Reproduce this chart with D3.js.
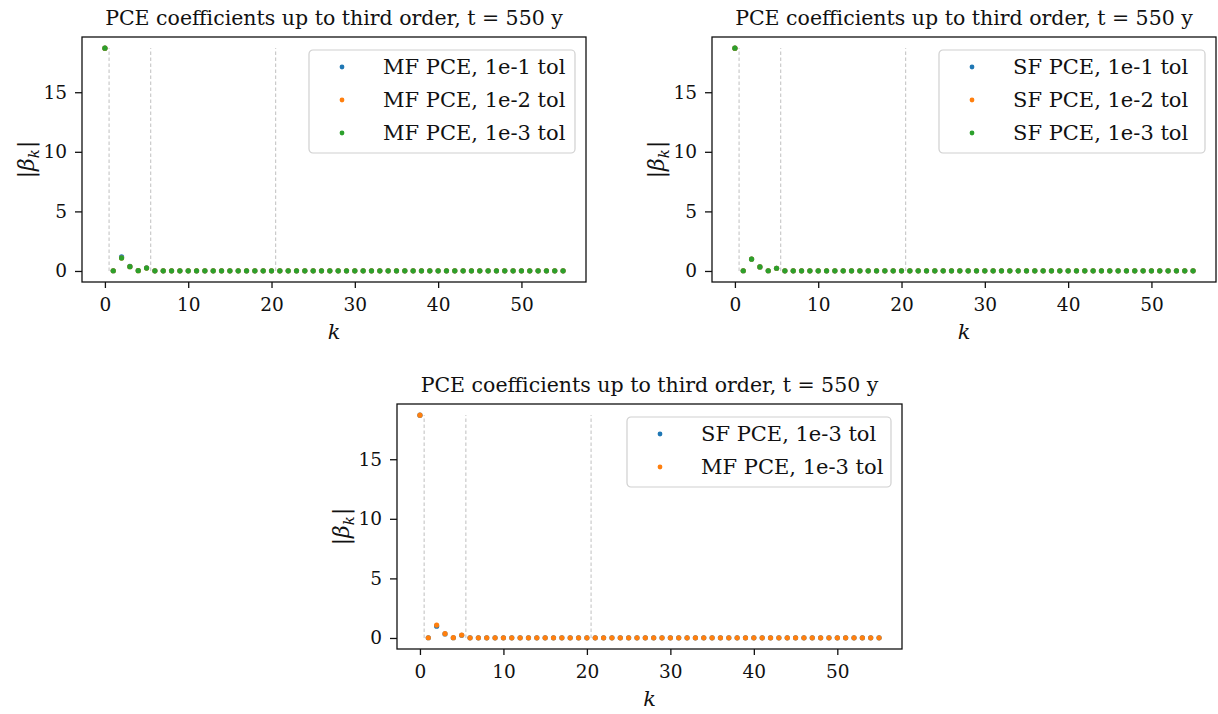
<!DOCTYPE html>
<html>
<head>
<meta charset="utf-8">
<script src="https://cdn.jsdelivr.net/npm/d3@7"></script>
<style>
  body { margin: 0; background: #fff; }
  svg text { font-family: "DejaVu Serif", "Liberation Serif", serif; fill: #111; }
</style>
</head>
<body>
<svg width="1218" height="714"></svg>
<script>
const width = 1218,
      height = 714

const title = "PCE coefficients up to third order, t = 550 y"

// k index 0..55
const kIndex = [0,1,2,3,4,5,6,7,8,9,10,11,12,13,14,15,16,17,18,19,20,21,22,23,24,25,26,27,
  28,29,30,31,32,33,34,35,36,37,38,39,40,41,42,43,44,45,46,47,48,49,50,51,52,53,54,55]

const xTicks = [0, 10, 20, 30, 40, 50]
const yTicks = [0, 5, 10, 15]
const orderBreaks = [0.5, 5.5, 20.5]

const mf1 = [18.70,0.02,1.18,0.38,0.04,0.27,0.01,0.01,0.01,0.01,0.01,0.01,0.01,0.01,0.01,0.01,0.01,0.01,0.01,0.01,
  0.01,0.01,0.01,0.01,0.01,0.01,0.01,0.01,0.01,0.01,0.01,0.01,0.01,0.01,0.01,0.01,0.01,0.01,0.01,0.01,
  0.01,0.01,0.01,0.01,0.01,0.01,0.01,0.01,0.01,0.01,0.01,0.01,0.01,0.01,0.01,0.01]
const mf2 = [18.70,0.02,1.09,0.36,0.03,0.24,0.01,0.01,0.01,0.01,0.01,0.01,0.01,0.01,0.01,0.01,0.01,0.01,0.01,0.01,
  0.01,0.01,0.01,0.01,0.01,0.01,0.01,0.01,0.01,0.01,0.01,0.01,0.01,0.01,0.01,0.01,0.01,0.01,0.01,0.01,
  0.01,0.01,0.01,0.01,0.01,0.01,0.01,0.01,0.01,0.01,0.01,0.01,0.01,0.01,0.01,0.01]
const mf3 = [18.70,0.02,1.08,0.36,0.03,0.24,0.01,0.01,0.01,0.01,0.01,0.01,0.01,0.01,0.01,0.01,0.01,0.01,0.01,0.01,
  0.01,0.01,0.01,0.01,0.01,0.01,0.01,0.01,0.01,0.01,0.01,0.01,0.01,0.01,0.01,0.01,0.01,0.01,0.01,0.01,
  0.01,0.01,0.01,0.01,0.01,0.01,0.01,0.01,0.01,0.01,0.01,0.01,0.01,0.01,0.01,0.01]
const sf1 = [18.70,0.02,1.00,0.34,0.02,0.23,0.01,0.01,0.01,0.01,0.01,0.01,0.01,0.01,0.01,0.01,0.01,0.01,0.01,0.01,
  0.01,0.01,0.01,0.01,0.01,0.01,0.01,0.01,0.01,0.01,0.01,0.01,0.01,0.01,0.01,0.01,0.01,0.01,0.01,0.01,
  0.01,0.01,0.01,0.01,0.01,0.01,0.01,0.01,0.01,0.01,0.01,0.01,0.01,0.01,0.01,0.01]
const sf2 = [18.70,0.02,1.00,0.34,0.02,0.23,0.01,0.01,0.01,0.01,0.01,0.01,0.01,0.01,0.01,0.01,0.01,0.01,0.01,0.01,
  0.01,0.01,0.01,0.01,0.01,0.01,0.01,0.01,0.01,0.01,0.01,0.01,0.01,0.01,0.01,0.01,0.01,0.01,0.01,0.01,
  0.01,0.01,0.01,0.01,0.01,0.01,0.01,0.01,0.01,0.01,0.01,0.01,0.01,0.01,0.01,0.01]
const sf3 = [18.70,0.02,0.99,0.34,0.02,0.23,0.01,0.01,0.01,0.01,0.01,0.01,0.01,0.01,0.01,0.01,0.01,0.01,0.01,0.01,
  0.01,0.01,0.01,0.01,0.01,0.01,0.01,0.01,0.01,0.01,0.01,0.01,0.01,0.01,0.01,0.01,0.01,0.01,0.01,0.01,
  0.01,0.01,0.01,0.01,0.01,0.01,0.01,0.01,0.01,0.01,0.01,0.01,0.01,0.01,0.01,0.01]

const blue = "#1f77b4", orange = "#ff7f0e", green = "#2ca02c"

const panels = [
  {box: [82, 37, 586, 282], series: [
    {name: "MF PCE, 1e-1 tol", color: blue, values: mf1},
    {name: "MF PCE, 1e-2 tol", color: orange, values: mf2},
    {name: "MF PCE, 1e-3 tol", color: green, values: mf3}]},
  {box: [712, 37, 1216, 282], series: [
    {name: "SF PCE, 1e-1 tol", color: blue, values: sf1},
    {name: "SF PCE, 1e-2 tol", color: orange, values: sf2},
    {name: "SF PCE, 1e-3 tol", color: green, values: sf3}]},
  {box: [397, 404, 902, 649], series: [
    {name: "SF PCE, 1e-3 tol", color: blue, values: sf3},
    {name: "MF PCE, 1e-3 tol", color: orange, values: mf3}]}
]

const svg = d3.select("svg")
  .attr("width", width)
  .attr("height", height)

const tickFont = 18.5,
      textFont = 21,
      titleFont = 20.5

panels.forEach(drawPanel)

function drawPanel (p) {
  const [x0, y0, x1, y1] = p.box
  const allMax = d3.max(p.series, s => d3.max(s.values))
  const allMin = d3.min(p.series, s => d3.min(s.values))
  const padY = (allMax - allMin) * 0.05
  const padX = 55 * 0.05

  const x = d3.scaleLinear().domain([-padX, 55 + padX]).range([x0, x1])
  const y = d3.scaleLinear().domain([allMin - padY, allMax + padY]).range([y1, y0])

  const g = svg.append("g")

  // dashed separators between polynomial orders
  g.selectAll("line.sep")
    .data(orderBreaks)
    .enter().append("line")
      .attr("x1", d => x(d)).attr("x2", d => x(d))
      .attr("y1", y(0)).attr("y2", y(allMax))
      .attr("stroke", "#b8b8b8")
      .attr("stroke-width", 0.9)
      .attr("stroke-dasharray", "3.5,2.5")

  p.series.forEach(s => {
    g.selectAll(null)
      .data(s.values)
      .enter().append("circle")
        .attr("cx", (d, i) => x(kIndex[i]))
        .attr("cy", d => y(d))
        .attr("r", 2.6)
        .attr("fill", s.color)
  })

  // axes
  const xAxis = g.append("g")
    .attr("transform", `translate(0,${y1})`)
    .call(d3.axisBottom(x).tickValues(xTicks).tickSize(6).tickPadding(8).tickFormat(d3.format("d")))
  const yAxis = g.append("g")
    .attr("transform", `translate(${x0},0)`)
    .call(d3.axisLeft(y).tickValues(yTicks).tickSize(7).tickPadding(8).tickFormat(d3.format("d")))
  ;[xAxis, yAxis].forEach(a => {
    a.select(".domain").remove()
    a.selectAll("line").attr("stroke", "#111").attr("stroke-width", 1.3)
    a.selectAll("text").attr("font-size", tickFont).attr("font-family", null).style("fill", "#111")
  })
  xAxis.selectAll("text").attr("dy", "0.8em")

  g.append("rect")
    .attr("x", x0).attr("y", y0)
    .attr("width", x1 - x0).attr("height", y1 - y0)
    .attr("fill", "none")
    .attr("stroke", "#111")
    .attr("stroke-width", 1.3)

  g.append("text")
    .attr("x", (x0 + x1) / 2)
    .attr("y", y0 - 12)
    .attr("text-anchor", "middle")
    .attr("font-size", titleFont)
    .text(title)

  g.append("text")
    .attr("x", (x0 + x1) / 2)
    .attr("y", y1 + 57)
    .attr("text-anchor", "middle")
    .attr("font-size", textFont)
    .attr("font-style", "italic")
    .text("k")

  const yl = g.append("text")
    .attr("transform", `translate(${x0 - 48},${(y0 + y1) / 2}) rotate(-90)`)
    .attr("text-anchor", "middle")
    .attr("font-size", textFont + 1)
  yl.append("tspan").text("|")
  yl.append("tspan").attr("font-style", "italic").text("β")
  yl.append("tspan").attr("font-style", "italic").attr("font-size", 15).attr("dy", 5).text("k")
  yl.append("tspan").attr("dy", -5).attr("dx", 1).text("|")

  // legend
  const rowH = 33
  const legW = p.series.length === 3 ? 266 : 264
  const legH = 14 + rowH * p.series.length - 10
  const lx = x1 - 11 - legW
  const ly = y0 + 13
  const leg = g.append("g").attr("transform", `translate(${lx},${ly})`)
  leg.append("rect")
    .attr("width", legW).attr("height", legH)
    .attr("rx", 4)
    .attr("fill", "#fff").attr("fill-opacity", 0.8)
    .attr("stroke", "#d0d0d0").attr("stroke-width", 1.2)
  const rows = leg.selectAll("g.row")
    .data(p.series)
    .enter().append("g")
      .attr("transform", (d, i) => `translate(0,${17 + i * rowH})`)
  rows.append("circle")
    .attr("cx", 33).attr("r", 2.4)
    .attr("fill", d => d.color)
  rows.append("text")
    .attr("x", 74)
    .attr("dy", "0.35em")
    .attr("font-size", textFont)
    .text(d => d.name)
}
</script>
</body>
</html>
